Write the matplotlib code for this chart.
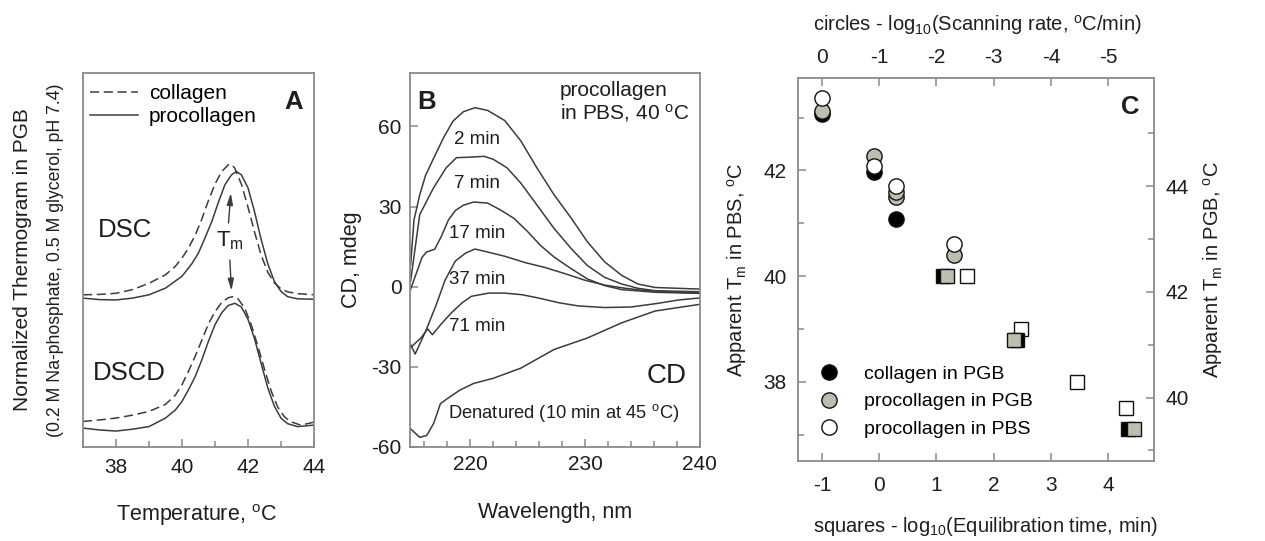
import matplotlib
matplotlib.use('Agg')
import matplotlib.pyplot as plt
from matplotlib.ticker import MultipleLocator, FixedLocator

plt.rcParams['font.family'] = ['Liberation Sans', 'DejaVu Sans']
plt.rcParams['mathtext.fontset'] = 'custom'
plt.rcParams['mathtext.rm'] = 'Liberation Sans'
plt.rcParams['mathtext.it'] = 'Liberation Sans:italic'
plt.rcParams['mathtext.bf'] = 'Liberation Sans:bold'
plt.rcParams['axes.unicode_minus'] = False

LINE = '#3c3c3c'
FRAME = '#8a8a8a'
GRAY = '#bdbdb0'
TXT = '#1e1e1e'

# ---- panel A: normalized thermograms (arbitrary units) ----
t_dsc_coll = [37.0, 37.5, 38.0, 38.5, 39.0, 39.5, 39.8, 40.0, 40.2, 40.4, 40.6, 40.8, 41.0, 41.2,
              41.4, 41.5, 41.6, 41.8, 42.0, 42.2, 42.4, 42.6, 42.8, 43.0, 43.2, 43.5, 44.0]
dsc_coll = [4.01, 4.02, 4.05, 4.15, 4.32, 4.55, 4.78, 5.00, 5.28, 5.62, 6.05, 6.55, 7.00, 7.33,
            7.52, 7.53, 7.43, 7.00, 6.38, 5.70, 5.08, 4.62, 4.33, 4.17, 4.09, 4.04, 4.01]
t_dsc_pro = [37.0, 37.5, 38.0, 38.5, 39.0, 39.5, 40.0, 40.3, 40.5, 40.7, 40.9, 41.1, 41.3, 41.5,
             41.65, 41.8, 42.0, 42.2, 42.4, 42.6, 42.8, 43.0, 43.2, 43.5, 44.0]
dsc_pro = [3.92, 3.88, 3.87, 3.92, 4.01, 4.19, 4.51, 4.85, 5.14, 5.55, 5.98, 6.50, 6.98, 7.25,
           7.34, 7.25, 6.90, 6.25, 5.50, 4.85, 4.37, 4.10, 3.96, 3.90, 3.89]
t_dscd_coll = [37.0, 37.5, 38.0, 38.5, 39.0, 39.5, 39.8, 40.0, 40.2, 40.4, 40.6, 40.8, 41.0, 41.2,
               41.4, 41.55, 41.7, 41.9, 42.1, 42.3, 42.5, 42.7, 42.9, 43.1, 43.3, 43.6, 44.0]
dscd_coll = [0.59, 0.63, 0.68, 0.76, 0.86, 1.05, 1.30, 1.58, 1.95, 2.35, 2.78, 3.22, 3.55, 3.80,
             3.93, 3.96, 3.90, 3.65, 3.20, 2.62, 2.00, 1.42, 0.98, 0.72, 0.58, 0.49, 0.57]
t_dscd_pro = [37.0, 37.5, 38.0, 38.5, 39.0, 39.5, 39.8, 40.0, 40.2, 40.4, 40.6, 40.8, 41.0, 41.2,
              41.4, 41.6, 41.8, 42.0, 42.2, 42.4, 42.6, 42.8, 43.0, 43.2, 43.5, 44.0]
dscd_pro = [0.41, 0.36, 0.33, 0.38, 0.45, 0.68, 0.90, 1.13, 1.45, 1.80, 2.25, 2.75, 3.20, 3.52,
            3.72, 3.78, 3.68, 3.35, 2.82, 2.15, 1.50, 1.00, 0.68, 0.53, 0.45, 0.49]

# ---- panel B: CD spectra, mdeg ----
wl_2 = [214.8, 215.1, 215.6, 216.1, 216.8, 217.7, 218.5, 219.4, 220.4, 221.5, 223.0, 224.4, 225.8,
        227.3, 228.8, 230.2, 231.7, 233.2, 234.6, 236.1, 240.0]
cd_2 = [8.0, 25.0, 34.4, 41.6, 48.0, 56.0, 62.0, 65.5, 67.0, 66.0, 62.2, 54.6, 44.5,
        34.4, 25.6, 16.8, 9.3, 4.2, 1.0, -0.3, -0.9]
wl_7 = [214.8, 215.6, 216.8, 217.9, 218.8, 220.0, 221.2, 222.0, 223.2, 224.4, 225.8, 227.3, 228.8,
        230.2, 231.7, 233.2, 234.6, 236.1, 240.0]
cd_7 = [2.0, 27.0, 37.0, 44.5, 48.3, 48.5, 48.8, 47.7, 44.5, 38.8, 30.6, 21.8, 14.2,
        7.9, 3.5, 1.0, -0.6, -1.5, -1.9]
wl_17 = [214.8, 215.3, 215.8, 216.2, 216.9, 217.5, 218.1, 218.7, 219.4, 220.3, 221.5, 222.6, 223.8,
         225.0, 226.1, 227.3, 228.8, 230.2, 231.7, 233.2, 236.1, 240.0]
cd_17 = [-1.0, 5.0, 11.0, 13.0, 14.0, 19.0, 25.0, 28.5, 30.5, 31.7, 31.3, 28.8, 25.6,
         20.6, 15.5, 11.1, 6.7, 2.9, 0.4, -1.1, -2.1, -2.5]
wl_37 = [214.8, 215.2, 216.1, 217.0, 217.8, 218.7, 219.6, 220.4, 221.3, 223.0, 224.8, 226.5, 228.3,
         230.0, 231.7, 233.5, 235.2, 237.5, 240.0]
cd_37 = [-21.6, -25.2, -16.8, -7.2, 2.4, 9.6, 12.6, 14.1, 13.2, 11.4, 9.0, 7.2, 4.8,
         2.4, 0.6, -0.6, -1.4, -2.0, -2.4]
wl_71 = [214.8, 215.7, 216.3, 216.7, 217.5, 218.4, 219.3, 220.1, 221.6, 223.0, 224.5, 225.9, 227.7,
         229.4, 231.7, 234.0, 236.4, 238.1, 240.0]
cd_71 = [-22.8, -19.2, -15.8, -18.0, -13.8, -9.6, -6.0, -3.6, -2.4, -2.4, -3.0, -4.2, -6.0,
         -7.2, -7.8, -7.6, -6.2, -5.0, -4.2]
wl_den = [214.8, 215.6, 216.2, 216.8, 217.4, 218.0, 219.1, 220.3, 222.0, 224.4, 227.3, 230.2,
          233.2, 236.1, 240.0]
cd_den = [-53.2, -56.4, -55.7, -51.3, -43.8, -41.9, -38.7, -36.2, -34.3, -30.5, -23.5, -19.2,
          -13.5, -9.1, -6.6]
spectra_labels = ['2 min', '7 min', '17 min', '37 min', '71 min']
label_pos = [(220.6, 55.0), (220.6, 38.5), (220.6, 20.0), (220.6, 2.6), (220.6, -15.0)]

# ---- panel C: apparent Tm ----
# circles: log10(scanning rate), squares: log10(equilibration time)
rate_coll_pgb = [0.0, -0.9, -1.3]
tm_rate_coll_pgb = [45.37, 44.27, 43.39]
rate_pro_pgb = [0.0, -0.9, -1.3, -1.3, -2.3]
tm_rate_pro_pgb = [45.43, 44.58, 43.80, 43.90, 42.70]
rate_pro_pbs = [0.0, -0.9, -1.3, -2.3]
tm_rate_pro_pbs = [43.37, 42.08, 41.70, 40.60]

time_coll_pgb = [1.12, 2.41, 4.35]
tm_time_coll_pgb = [42.30, 41.09, 39.40]
time_pro_pgb = [1.18, 2.35, 4.45]
tm_time_pro_pgb = [42.30, 41.09, 39.40]
time_pro_pbs = [1.53, 2.47, 3.46, 4.32]
tm_time_pro_pbs = [40.0, 39.0, 38.0, 37.5]

fig = plt.figure(figsize=(12.65, 5.41), dpi=100)


def style(ax):
    for s in ax.spines.values():
        s.set_color(FRAME)
        s.set_linewidth(1.3)
    ax.tick_params(which='both', direction='in', colors=FRAME, labelcolor=TXT,
                   labelsize=15, width=1.1)
    ax.tick_params(which='major', length=6)
    ax.tick_params(which='minor', length=4)


# ================= A =================
axA = fig.add_axes([0.0656, 0.1738, 0.1826, 0.6913])
style(axA)
axA.plot(t_dsc_coll, dsc_coll, color=LINE, lw=1.1, dashes=(6, 3), label='collagen')
axA.plot(t_dsc_pro, dsc_pro, color=LINE, lw=1.1, label='procollagen')
axA.plot(t_dscd_coll, dscd_coll, color=LINE, lw=1.1, dashes=(6, 3))
axA.plot(t_dscd_pro, dscd_pro, color=LINE, lw=1.1)
axA.set_xlim(37, 44)
axA.set_ylim(-0.1, 10)
axA.xaxis.set_major_locator(FixedLocator([38, 40, 42, 44]))
axA.xaxis.set_minor_locator(MultipleLocator(1))
axA.set_yticks([])
axA.tick_params(axis='x', pad=8)
axA.set_xlabel('Temperature, $^\\mathrm{o}$C', fontsize=15.5, color=TXT)
axA.xaxis.set_label_coords(0.49, -0.148)
axA.text(-0.264, 0.5, 'Normalized Thermogram in PGB', transform=axA.transAxes,
         rotation=90, ha='center', va='center', fontsize=15, color=TXT)
axA.text(-0.121, 0.5, '(0.2 M Na-phosphate, 0.5 M glycerol, pH 7.4)', transform=axA.transAxes,
         rotation=90, ha='center', va='center', fontsize=12.7, color=TXT)
axA.text(38.27, 5.75, 'DSC', fontsize=18.5, ha='center', va='center', color=TXT)
axA.text(38.4, 1.9, 'DSCD', fontsize=18.5, ha='center', va='center', color=TXT)
axA.text(41.44, 5.46, 'T$_\\mathrm{m}$', fontsize=16, ha='center', va='center', color=TXT)
arrow = dict(arrowstyle='-|>,head_length=0.7,head_width=0.18', color=LINE, lw=1.0,
             shrinkA=0, shrinkB=0)
axA.annotate('', xy=(41.48, 6.76), xytext=(41.41, 5.95), arrowprops=arrow)
axA.annotate('', xy=(41.50, 4.12), xytext=(41.45, 4.95), arrowprops=arrow)
axA.text(0.952, 0.955, 'A', transform=axA.transAxes, ha='right', va='top',
         fontsize=18.5, fontweight='bold', color=TXT)
axA.legend(loc='upper left', bbox_to_anchor=(-0.04, 1.015), frameon=False, fontsize=15,
           handlelength=2.3, handletextpad=0.5, labelspacing=0.2, borderpad=0.3)

# ================= B =================
axB = fig.add_axes([0.3241, 0.1738, 0.2292, 0.6913])
style(axB)
for wl, cd in [(wl_2, cd_2), (wl_7, cd_7), (wl_17, cd_17), (wl_37, cd_37), (wl_71, cd_71),
               (wl_den, cd_den)]:
    axB.plot(wl, cd, color=LINE, lw=1.1)
axB.set_xlim(214.75, 240)
axB.set_ylim(-60, 80)
axB.xaxis.set_major_locator(FixedLocator([220, 230, 240]))
axB.xaxis.set_minor_locator(MultipleLocator(2))
axB.yaxis.set_major_locator(FixedLocator([-60, -30, 0, 30, 60]))
axB.tick_params(axis='x', pad=6)
axB.tick_params(axis='y', pad=6)
axB.set_xlabel('Wavelength, nm', fontsize=15.5, color=TXT)
axB.xaxis.set_label_coords(0.5, -0.148)
axB.set_ylabel('CD, mdeg', fontsize=15.5, color=TXT)
axB.yaxis.set_label_coords(-0.166, 0.5)
for lab, (x, y) in zip(spectra_labels, label_pos):
    axB.text(x, y, lab, fontsize=13.5, ha='center', va='center', color=TXT)
axB.text(228.1, -47.4, 'Denatured (10 min at 45 $^\\mathrm{o}$C)', fontsize=13.2,
         ha='center', va='center', color=TXT)
axB.text(237.1, -33.6, 'CD', fontsize=20, ha='center', va='center', color=TXT)
axB.text(0.517, 0.978, 'procollagen\nin PBS, 40 $^\\mathrm{o}$C', transform=axB.transAxes,
         ha='left', va='top', fontsize=15, linespacing=1.1, color=TXT)
axB.text(0.025, 0.955, 'B', transform=axB.transAxes, ha='left', va='top',
         fontsize=18.5, fontweight='bold', color=TXT)

# ================= C =================
axC = fig.add_axes([0.6308, 0.1479, 0.2814, 0.7079])
style(axC)
axCr = axC.twinx()
axCtr = axCr.twiny()
axCt = axC.twiny()
for a in (axCr, axCtr, axCt):
    style(a)
    for s in a.spines.values():
        s.set_visible(False)

axC.set_xlim(-1.42, 4.8)
axC.set_ylim(36.5, 43.75)
axCr.set_ylim(38.8, 46.05)
axCt.set_xlim(0.42, -5.8)
axCtr.set_xlim(0.42, -5.8)
axCtr.xaxis.set_visible(False)

sq = dict(marker='s', ms=9.5, mec='#111111', mew=1.0, ls='none')
ci = dict(marker='o', ms=11, mec='#111111', mew=1.0, ls='none')

axC.plot(time_pro_pbs, tm_time_pro_pbs, mfc='white', **sq)
axCr.plot(time_coll_pgb, tm_time_coll_pgb, mfc='black', **sq)
axCr.plot(time_pro_pgb, tm_time_pro_pgb, mfc=GRAY, **sq)
h1, = axCtr.plot(rate_coll_pgb, tm_rate_coll_pgb, mfc='black', **ci)
h2, = axCtr.plot(rate_pro_pgb, tm_rate_pro_pgb, mfc=GRAY, **ci)
h3, = axCt.plot(rate_pro_pbs, tm_rate_pro_pbs, mfc='white', **ci)

axC.xaxis.set_major_locator(FixedLocator([-1, 0, 1, 2, 3, 4]))
axC.yaxis.set_major_locator(FixedLocator([38, 40, 42]))
axC.yaxis.set_minor_locator(FixedLocator([37, 39, 41, 43]))
axCr.yaxis.set_major_locator(FixedLocator([40, 42, 44]))
axCr.yaxis.set_minor_locator(FixedLocator([39, 41, 43, 45]))
axCt.xaxis.set_major_locator(FixedLocator([0, -1, -2, -3, -4, -5]))
axC.xaxis.set_major_formatter(plt.FuncFormatter(lambda v, p: '%d' % v))
axCt.xaxis.set_major_formatter(plt.FuncFormatter(lambda v, p: '%d' % v))
axC.tick_params(axis='x', pad=11)
axC.tick_params(axis='y', pad=8)
axCr.tick_params(axis='y', pad=8)
axCt.tick_params(axis='x', pad=8)

axC.set_ylabel('Apparent T$_\\mathrm{m}$ in PBS, $^\\mathrm{o}$C', fontsize=14.5, color=TXT)
axC.yaxis.set_label_coords(-0.138, 0.5)
axCr.set_ylabel('Apparent T$_\\mathrm{m}$ in PGB, $^\\mathrm{o}$C', fontsize=14.5, color=TXT,
                rotation=90)
axCr.yaxis.set_label_coords(1.132, 0.5)
axC.set_xlabel('squares - log$_{10}$(Equilibration time, min)', fontsize=14.5, color=TXT)
axC.xaxis.set_label_coords(0.527, -0.141)
axCt.set_xlabel('circles - log$_{10}$(Scanning rate, $^\\mathrm{o}$C/min)', fontsize=14.5,
                color=TXT)
axCt.xaxis.set_label_coords(0.503, 1.123)
axCt.text(0.96, 0.956, 'C', transform=axCt.transAxes, ha='right', va='top',
          fontsize=18.5, fontweight='bold', color=TXT)
axCt.legend([h1, h2, h3], ['collagen in PGB', 'procollagen in PGB', 'procollagen in PBS'],
            loc='lower left', bbox_to_anchor=(0.015, 0.02), frameon=False, fontsize=14,
            handlelength=1.0, handletextpad=1.3, labelspacing=0.5, borderpad=0.3)

fig.savefig('out.png', dpi=100)
